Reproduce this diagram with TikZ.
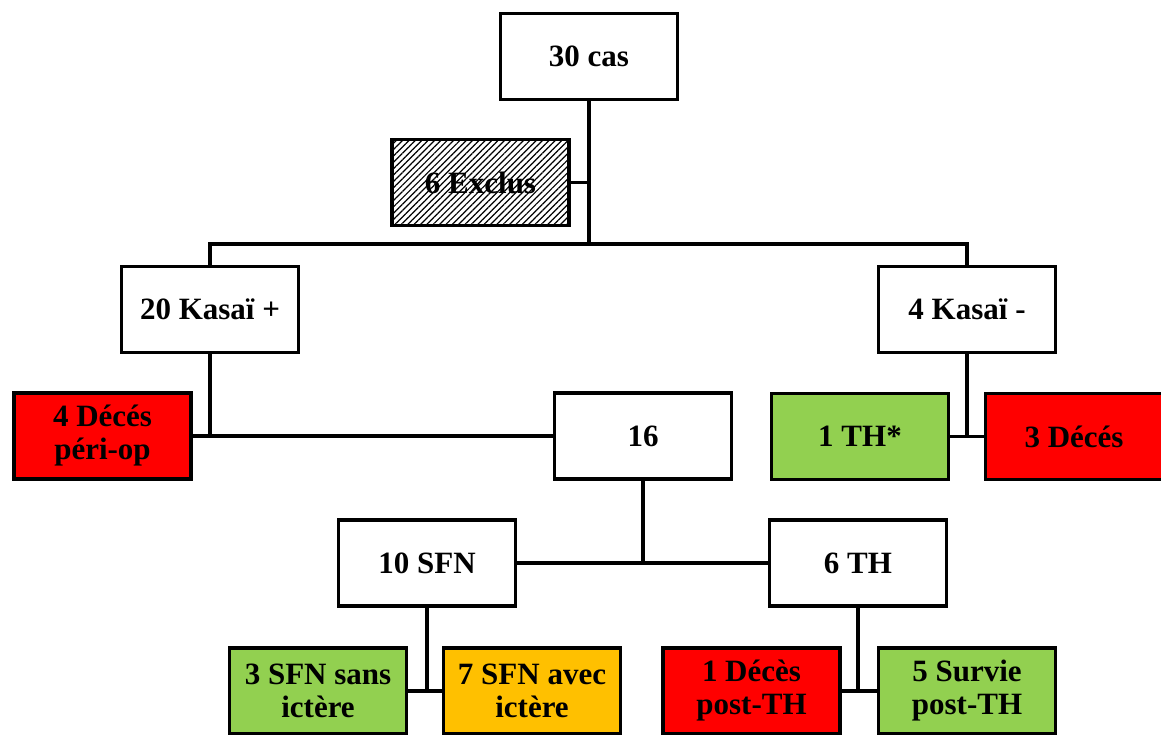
\documentclass[tikz,border=0pt]{standalone}
\usepackage{fontspec}
\setmainfont{Liberation Serif}
\usetikzlibrary{patterns.meta}
\definecolor{deadred}{HTML}{FF0000}
\definecolor{okgreen}{HTML}{92D050}
\definecolor{warnorange}{HTML}{FFC000}
\tikzset{
  box/.style={draw=black, line width=3.8pt, minimum width=177pt, minimum height=86pt,
    inner sep=2pt, align=center, font=\bfseries\fontsize{31}{33}\selectfont, fill=white},
  redbox/.style={box, fill=deadred},
  greenbox/.style={box, fill=okgreen},
  orangebox/.style={box, fill=warnorange},
  hatchbox/.style={box, fill=none, pattern={Lines[angle=45,distance=4.5pt,line width=1.2pt]}},
  link/.style={draw=black, line width=3.8pt}
}
\begin{document}
\begin{tikzpicture}[x=1pt,y=-1pt]
\useasboundingbox (0,0) rectangle (1161,734);
% boxes
\node[box] (cas) at (589,56.5) {30 cas};
\node[hatchbox] (exclus) at (480.5,182.5) {6 Exclus};
\node[box] (kp) at (210,309.5) {20 Kasaï +};
\node[box] (km) at (967,309.5) {4 Kasaï -};
\node[redbox] (dp) at (102.5,436) {4 Décés\\péri-op};
\node[box] (n16) at (643,436) {16};
\node[greenbox] (th1) at (860,436.5) {1 TH*};
\node[redbox] (d3) at (1074,436.5) {3 Décés};
\node[box] (sfn) at (427,563) {10 SFN};
\node[box] (th6) at (858,563) {6 TH};
\node[greenbox] (sfn3) at (318,691) {3 SFN sans\\ictère};
\node[orangebox] (sfn7) at (532,691) {7 SFN avec\\ictère};
\node[redbox] (dec1) at (751.5,691) {1 Décès\\post-TH};
\node[greenbox] (surv) at (967,691) {5 Survie\\post-TH};
\coordinate (j1) at (589,244);
% connectors
\draw[link] (cas.south) -- (j1);
\draw[link] (exclus.east) -- (exclus.east -| cas.south);
\draw[link] (kp.north) |- (j1) -| (km.north);
\draw[link] (kp.south) |- (n16.west);
\draw[link] (dp.east) -- (dp.east -| kp.south);
\draw[link] (km.south) -- (km.south |- th1.east);
\draw[link] (th1.east) -- (d3.west);
\draw[link] (n16.south) -- (n16.south |- sfn.east);
\draw[link] (sfn.east) -- (th6.west);
\draw[link] (sfn.south) -- (sfn.south |- sfn3.east);
\draw[link] (sfn3.east) -- (sfn7.west);
\draw[link] (th6.south) -- (th6.south |- dec1.east);
\draw[link] (dec1.east) -- (surv.west);
\end{tikzpicture}
\end{document}
